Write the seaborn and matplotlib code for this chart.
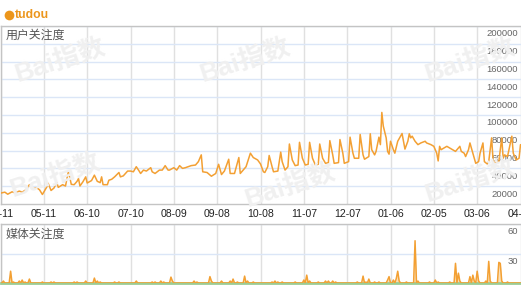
import numpy as np
import pandas as pd
import matplotlib
matplotlib.use("Agg")
import matplotlib.pyplot as plt
import matplotlib.transforms as mtransforms
from matplotlib.lines import Line2D
import seaborn as sns

# ---------------- data ----------------
series_name = "tudou"
panel_top_title = "用户关注度"
panel_bottom_title = "媒体关注度"
watermark_text = "Bai指数"

tick_days = [0, 30, 60, 90, 120, 150, 180, 210, 240, 270, 300, 330, 360]
tick_labels = ["04-11", "05-11", "06-10", "07-10", "08-09", "09-08", "10-08",
               "11-07", "12-07", "01-06", "02-05", "03-06", "04-05"]

user_yticks = [20000, 40000, 60000, 80000, 100000, 120000, 140000, 160000, 180000, 200000]
media_yticks = [30, 60]

# user attention (day offset from 04-11, value)
user_day = [0, 3, 5, 8, 10, 13, 15, 18, 20, 22, 25, 27, 29, 32, 33, 35, 37, 39, 40, 43,
            45, 47, 49, 51, 53, 54, 55, 57, 59, 60, 63, 65, 67, 69, 70, 71, 74, 75, 77, 79,
            82, 83, 85, 88, 90, 92, 94, 96, 97, 99, 101, 104, 105, 107, 110, 112, 114, 116, 117, 120,
            122, 124, 126, 128, 130, 132, 135, 137, 139, 140, 143, 146, 149, 151, 153, 155, 158, 159, 162, 165,
            166, 168, 170, 173, 175, 178, 180, 182, 183, 185, 186, 188, 189, 192, 194, 195, 197, 199, 200, 202,
            204, 206, 207, 209, 211, 213, 214, 216, 218, 220, 221, 223, 225, 227, 228, 230, 231, 234, 235, 237,
            238, 241, 242, 244, 245, 248, 249, 251, 252, 255, 256, 257, 259, 260, 262, 263, 264, 265, 267, 268,
            269, 270, 272, 273, 275, 278, 279, 280, 282, 283, 284, 285, 287, 289, 291, 294, 295, 298, 300, 302,
            303, 304, 305, 307, 309, 313, 315, 318, 319, 321, 322, 324, 325, 327, 329, 331, 332, 334, 335, 337,
            338, 340, 341, 343, 345, 347, 348, 349, 351, 354, 355, 357, 359, 360]
user_val = [12200, 13300, 11000, 13700, 12600, 14500, 13300, 16400, 21700, 17100, 18300, 16000, 10700, 19000, 23200, 15200, 17900, 24000, 18700, 21700,
            20200, 37000, 22100, 21700, 25500, 28600, 20200, 24800, 30500, 23600, 26300, 32400, 25500, 24000, 30500, 21700, 21700, 26700, 27800, 30500,
            35400, 30500, 31600, 37000, 37000, 36200, 41900, 37000, 34300, 38100, 37000, 40800, 36200, 34300, 38100, 38100, 43100, 38100, 38100, 40800,
            38100, 43100, 40000, 40800, 41900, 43100, 43800, 47600, 55200, 36200, 35400, 31200, 34300, 44600, 33100, 37000, 50300, 34300, 34300, 52200,
            34300, 38100, 41900, 57100, 52200, 49500, 45000, 36200, 35400, 41900, 54500, 41900, 36200, 37000, 58300, 47600, 38100, 41900, 67400, 49500,
            43100, 43800, 69300, 51400, 43800, 44600, 69300, 51400, 43800, 44600, 67400, 51400, 45700, 46500, 71200, 55200, 45700, 46500, 72400, 57100,
            45700, 47600, 75100, 57100, 51400, 51400, 78100, 55200, 50300, 53300, 78900, 61000, 55200, 59100, 75100, 66700, 102900, 87600, 74300, 59100,
            56000, 70500, 61000, 57100, 70500, 79200, 70500, 61700, 70500, 78900, 74300, 76200, 70500, 66700, 68600, 70500, 68600, 66700, 64800, 57100,
            48400, 64800, 61000, 62900, 64800, 61000, 59100, 64800, 59100, 57100, 53300, 61000, 68600, 57100, 45700, 47600, 57100, 68600, 47600, 45000,
            47600, 74300, 49500, 45700, 47600, 74300, 51400, 55200, 53300, 76200, 57100, 49500, 51400, 66700]

# media attention: non-zero days (all other days are 0)
media_day = [2, 7, 9, 13, 15, 17, 20, 29, 35, 37, 51, 53, 59, 65, 67, 69, 79, 82, 94, 105,
             107, 111, 113, 118, 119, 134, 136, 145, 146, 153, 159, 161, 164, 169, 171, 175, 188, 190, 192, 195,
             204, 210, 212, 214, 220, 225, 227, 230, 232, 247, 251, 253, 255, 259, 262, 268, 269, 272, 274, 275,
             276, 281, 287, 289, 297, 301, 303, 311, 315, 317, 318, 325, 327, 328, 330, 331, 336, 338, 339, 345,
             346, 347, 351]
media_val = [2, 12, 1, 2, 3, 1, 4, 1, 1, 1, 1, 1, 2, 5, 2, 1, 1, 1, 2, 1,
             1, 2, 1, 6, 2, 2, 1, 6.5, 2, 2, 2, 4, 1, 7, 2, 1, 1, 2, 1, 1,
             1, 3, 8, 2, 1, 2, 2, 2, 1, 1, 7, 1, 4, 1, 1, 3, 6.5, 3, 4.5, 12,
             2, 1, 43, 2, 1, 3, 1, 1, 20, 10, 2, 6.5, 8, 2, 12, 2, 2, 22, 2, 21,
             20, 2, 1]

# ---------------- style ----------------
sns.set_theme(style="white")
plt.rcParams["font.family"] = ["Liberation Sans", "Noto Sans CJK SC", "DejaVu Sans"]

LINE = "#F3A033"
FILL = "#FBD9A4"
TITLE_ORANGE = "#EC961C"
SPINE = "#c4c4c4"
VGRID = "#e0e0e0"
HGRID = "#dbe6f7"
WMARK = "#f0f0f0"

W, H = 521, 285
fig = plt.figure(figsize=(W / 100, H / 100), dpi=100)
fig.patch.set_facecolor("white")

# faint watermarks (figure-level, behind the axes content)
for (wx, wy) in [(60, 60), (245, 60), (470, 60), (55, 175), (290, 185), (470, 180)]:
    fig.text(wx / W, 1 - wy / H, watermark_text, ha="center", va="center",
             fontsize=19, fontweight="bold", color=WMARK, rotation=18, zorder=0,
             family=["Liberation Sans", "Noto Sans CJK SC"])

ax1 = fig.add_axes([0.5 / W, (H - 204) / H, 520 / W, 178 / H])
ax2 = fig.add_axes([0.5 / W, 2 / H, 520 / W, 59 / H])

user_df = pd.DataFrame({"day": user_day, "value": user_val})
days_all = np.arange(0, 361)
media_series = pd.Series(0.0, index=days_all)
media_series.loc[media_day] = media_val
media_df = pd.DataFrame({"day": days_all, "value": media_series.values})

sns.lineplot(data=user_df, x="day", y="value", ax=ax1, color=LINE, lw=1.1, zorder=3)
ax2.fill_between(media_df["day"], media_df["value"], color=FILL, alpha=0.8, lw=0, zorder=2)
sns.lineplot(data=media_df, x="day", y="value", ax=ax2, color=LINE, lw=1.1, zorder=3)

for ax in (ax1, ax2):
    ax.set_xlim(0, 360)
    ax.set_xlabel("")
    ax.set_ylabel("")
    ax.set_xticks(tick_days)
    ax.grid(axis="x", color=VGRID, lw=1.0, zorder=0)
    ax.grid(axis="y", color=HGRID, lw=1.0, zorder=0)
    for s in ("top", "left", "bottom"):
        ax.spines[s].set_color(SPINE)
        ax.spines[s].set_linewidth(1.0)
    ax.spines["right"].set_visible(False)
    ax.patch.set_alpha(0)
    ax.yaxis.tick_right()
    ax.tick_params(axis="y", length=0, pad=-2.0, labelsize=6.8, labelcolor="#666666")
    ax.tick_params(axis="x", length=0)

ax1.set_ylim(0, 200000)
ax1.set_yticks(user_yticks)
ax1.set_yticklabels([str(v) for v in user_yticks])
ax1.set_xticklabels(tick_labels)
ax1.tick_params(axis="x", pad=3.5, labelsize=7.6, labelcolor="#222222")

ax2.set_ylim(0, 60)
ax2.set_yticks(media_yticks)
ax2.set_yticklabels([str(v) for v in media_yticks])
ax2.set_xticklabels([])
ax2.spines["bottom"].set_color("#9ccc94")
ax2.spines["bottom"].set_linewidth(2.0)

off = mtransforms.ScaledTranslation(0, -2.5 / 72, fig.dpi_scale_trans)
for ax in (ax1, ax2):
    for lbl in ax.get_yticklabels():
        lbl.set_ha("right")
        lbl.set_va("top")
        lbl.set_transform(lbl.get_transform() + off)

ax1.text(5 / W, 1 - 3 / 178, panel_top_title, transform=ax1.transAxes,
         ha="left", va="top", fontsize=8.6, color="#555555",
         family=["Noto Sans CJK SC", "DejaVu Sans"])
ax2.text(5 / W, 1 - 4 / 59, panel_bottom_title, transform=ax2.transAxes,
         ha="left", va="top", fontsize=8.6, color="#555555",
         family=["Noto Sans CJK SC", "DejaVu Sans"])

fig.add_artist(Line2D([8.5 / W], [1 - 15 / H], marker="o", ms=7.0, color=TITLE_ORANGE,
                      markeredgewidth=0, transform=fig.transFigure))
fig.text(14.5 / W, 1 - 15 / H, series_name, ha="left", va="center", fontsize=8.8,
         fontweight="bold", color=TITLE_ORANGE, family=["Liberation Sans", "DejaVu Sans"])

fig.savefig("out.png", dpi=100)
